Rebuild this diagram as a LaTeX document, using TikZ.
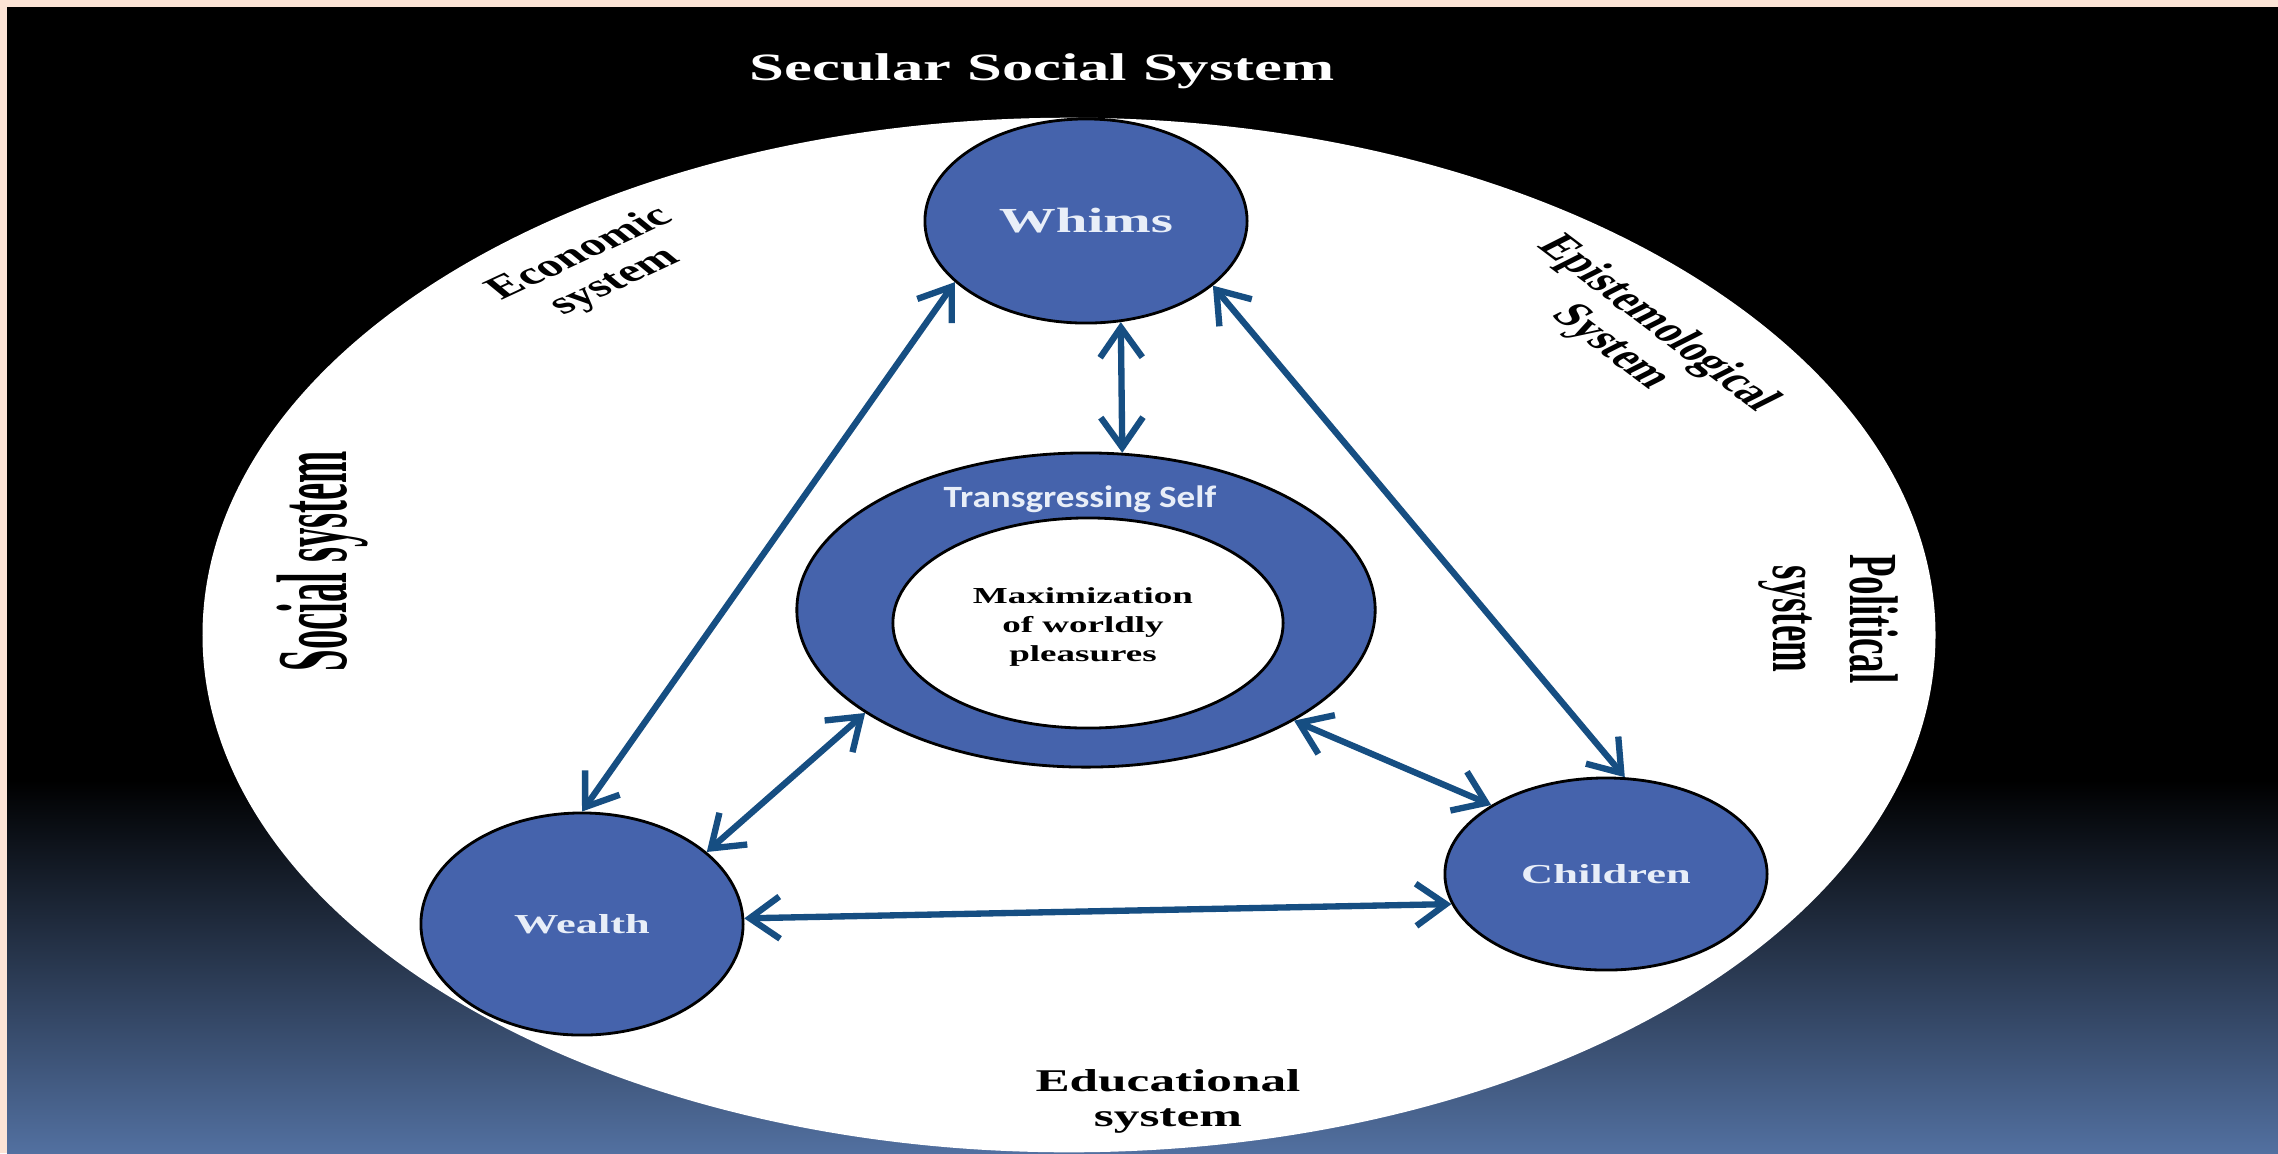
\documentclass[tikz,border=0pt]{standalone}
\usepackage{fontspec}
\setmainfont{Liberation Serif}
\newfontfamily\calib{Carlito}
\usetikzlibrary{shapes.geometric,arrows.meta}
\definecolor{peach}{RGB}{252,228,214}
\definecolor{nodeblue}{RGB}{69,99,172}
\definecolor{arrowblue}{RGB}{22,78,130}
\definecolor{bgblue}{RGB}{82,112,160}
\definecolor{nodetext}{RGB}{232,238,248}
\begin{document}
\begin{tikzpicture}[x=0.01cm,y=-0.01cm,
  blob/.style={ellipse, draw=black, line width=0.8pt, fill=nodeblue, inner sep=0pt, text=nodetext},
  link/.style={draw=arrowblue, line width=1.8pt,
    {Straight Barb[length=8.5pt,width=12pt]}-{Straight Barb[length=8.5pt,width=12pt]}},
  lbl/.style={xscale=1.62, align=center, inner sep=0pt, text=black},
]
\useasboundingbox (0,0) rectangle (2278,1153);
% background
\fill[peach] (0,0) rectangle (2278,1153);
\fill[black] (7,7) rectangle (2278,782);
\shade[top color=black, bottom color=bgblue] (7,780) rectangle (2278,1153);
% outer white system ellipse
\fill[white] (1069,635) ellipse [x radius=8.66cm, y radius=5.17cm];

% title
\node[lbl, text=white, anchor=base, font=\bfseries\fontsize{11}{13}\selectfont] (title) at (1042,80) {Secular Social System};

% system labels
\node[lbl, rotate=37, font=\bfseries\fontsize{9}{10}\selectfont] (econ) at (598,268) {Economic\\system};
\node[lbl, rotate=-50.7, font=\bfseries\fontsize{9}{10.5}\selectfont] (epist) at (1634,336) {\scalebox{1}[1.1]{Epistemological}\\\scalebox{1}[1.1]{System}};
\node[lbl, rotate=90, font=\bfseries\fontsize{11}{13}\selectfont] (social) at (323,561) {\scalebox{1}[1.6]{Social system}};
\node[lbl, rotate=-90, font=\bfseries\fontsize{10.5}{13.5}\selectfont] (polit) at (1828,619) {\scalebox{1}[1.15]{Political}\\\scalebox{1}[1.15]{system}};
\node[lbl, font=\bfseries\fontsize{9}{10}\selectfont] (educ) at (1168,1101) {Educational\\system};

% main nodes
\node[blob, minimum width=3.22cm, minimum height=2.04cm, font=\bfseries\fontsize{10}{12}\selectfont] (whims) at (1086,221) {\scalebox{1.62}[1]{Whims}};
\node[blob, minimum width=5.78cm, minimum height=3.14cm] (ring) at (1086,610) {};
\node[ellipse, draw=black, line width=0.8pt, fill=white, inner sep=0pt, minimum width=3.9cm, minimum height=2.1cm] (inner) at (1088,623) {};
\node[lbl, anchor=base, text=nodetext, xscale=0.74, font=\calib\bfseries\fontsize{8.8}{10}\selectfont] (trans) at (1080,507) {Transgressing Self};
\node[lbl, font=\bfseries\fontsize{6.5}{8.2}\selectfont] (maxtext) at (1083,627) {Maximization\\of worldly\\pleasures};
\node[blob, minimum width=3.22cm, minimum height=2.22cm, font=\bfseries\fontsize{7.8}{9}\selectfont] (wealth) at (582,924) {\scalebox{1.62}[1]{Wealth}};
\node[blob, minimum width=3.22cm, minimum height=1.92cm, font=\bfseries\fontsize{7.8}{9}\selectfont] (children) at (1606,874) {\scalebox{1.62}[1]{Children}};

% connectors
\draw[link] (whims.205.6) -- (wealth.north);
\draw[link] (whims.-27.9) -- (children.79);
\draw[link] (whims.-71.2) -- (ring.77.8);
\draw[link] (ring.205.3) -- (wealth.30.6);
\draw[link] (ring.-28.2) -- (children.149.3);
\draw[link] (wealth.2.4) -- (children.191.3);
\end{tikzpicture}
\end{document}
